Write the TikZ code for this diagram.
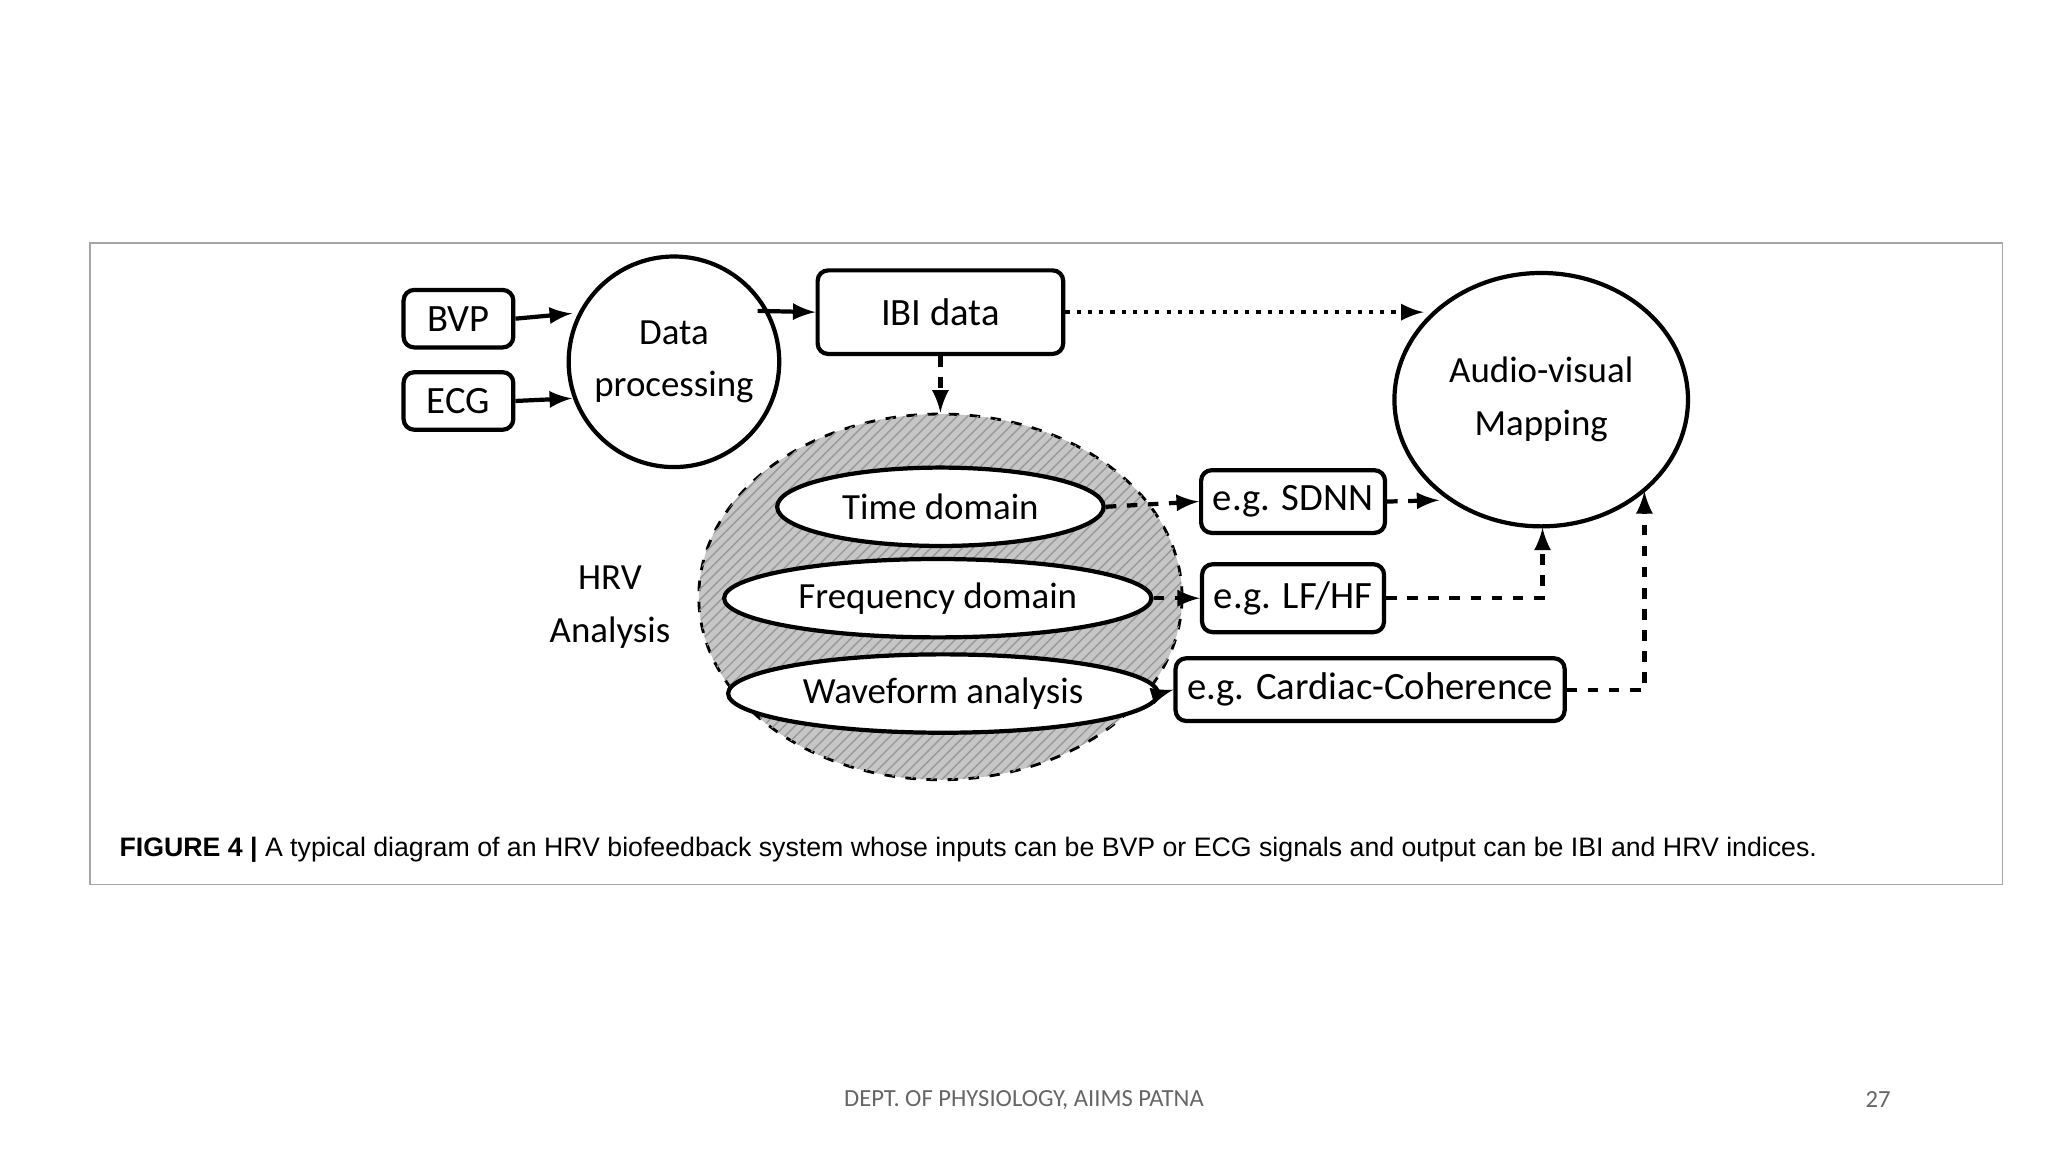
\documentclass[tikz,border=0pt]{standalone}
\usepackage{fontspec}
\setmainfont{Carlito}
\newfontfamily\capfont{Liberation Sans}
\usetikzlibrary{patterns,shapes.geometric}
\begin{document}
\begin{tikzpicture}[>=latex,x=0.01306cm,y=-0.01306cm,
  box/.style={draw, very thick, rounded corners=3pt, rectangle, font=\fontsize{11}{12}\selectfont},
  oval/.style={draw, very thick, ellipse, fill=white, font=\fontsize{10.5}{12}\selectfont},
  darrow/.style={very thick, dashed, ->}]
\useasboundingbox (0,0) rectangle (1568,882);
\draw[gray!70] (69,186) rectangle (1533,677);

\node(BVP)[box, minimum width=84*0.01306cm, minimum height=44*0.01306cm] at (351,244) {BVP};
\node(ECG)[box, minimum width=84*0.01306cm, minimum height=44*0.01306cm] at (351,307) {ECG};
\node(Proc)[draw, very thick, circle, minimum size=136*0.01306cm, align=center, font=\fontsize{10.5}{15}\selectfont] at (516,277) {Data\\processing};
\node(IBI)[box, minimum width=188*0.01306cm, minimum height=64*0.01306cm] at (720,239) {IBI data};
\node(Map)[draw, very thick, ellipse, minimum width=224*0.01306cm, minimum height=194*0.01306cm, align=center, font=\fontsize{10.5}{15}\selectfont] at (1180,306) {Audio-visual\\Mapping};

\node(HRV)[draw, dashed, thick, ellipse, fill=gray!45, minimum width=370*0.01306cm, minimum height=280*0.01306cm] at (720,457) {};
\fill[pattern=north east lines, pattern color=gray!80] (720,457) ellipse (185 and 140);
\node(Lbl)[align=center, font=\fontsize{10.5}{15}\selectfont] at (467,465) {HRV\\Analysis};

\node(Time)[oval, minimum width=250*0.01306cm, minimum height=60*0.01306cm] at (720,388) {Time domain};
\node(Freq)[oval, minimum width=256*0.01306cm, minimum height=60*0.01306cm] at (718,458) {Frequency domain};
\node(Wave)[oval, minimum width=250*0.01306cm, minimum height=60*0.01306cm] at (722,531) {Waveform analysis};

\node(SDNN)[box, minimum width=128*0.01306cm, minimum height=48*0.01306cm] at (990,384) {e.g. SDNN};
\node(LFHF)[box, minimum width=128*0.01306cm, minimum height=52*0.01306cm] at (990,458) {e.g. LF/HF};
\node(Coh)[box, minimum width=246*0.01306cm, minimum height=48*0.01306cm] at (1049,528) {e.g. Cardiac-Coherence};

\coordinate(b1) at (438,240);
\coordinate(e1) at (438,305);
\coordinate(p1) at (580,238);
\coordinate(s1) at (1102,383);
\coordinate(l1) at (1181,458);
\coordinate(l2) at (1181,404);
\coordinate(c1) at (1259,528);
\coordinate(c2) at (1259,376);
\coordinate(m1) at (1090,239);

\draw (BVP.east) edge[->, very thick] (b1);
\draw (ECG.east) edge[->, very thick] (e1);
\draw (p1) edge[->, very thick] (IBI.west);
\draw (IBI.east) edge[->, very thick, dotted] (m1);
\draw (IBI.south) edge[darrow] (HRV.north);
\draw (Time.east) edge[darrow] (SDNN.west);
\draw (Freq.east) edge[darrow] (LFHF.west);
\draw (Wave.east) edge[darrow] (Coh.west);
\draw (SDNN.east) edge[darrow] (s1);
\draw[darrow] (LFHF.east) -- (l1) -- (l2);
\draw[darrow] (Coh.east) -- (c1) -- (c2);

\node(Cap)[anchor=west, font=\capfont\fontsize{7.6}{9}\selectfont] at (82,651) {\textbf{FIGURE 4 |} A typical diagram of an HRV biofeedback system whose inputs can be BVP or ECG signals and output can be IBI and HRV indices.};
\node(Foot)[text=gray!80!black, font=\fontsize{7}{8}\selectfont] at (784,842) {DEPT. OF PHYSIOLOGY, AIIMS PATNA};
\node(Page)[text=gray!80!black, font=\fontsize{7}{8}\selectfont] at (1438,842) {27};
\end{tikzpicture}
\end{document}
